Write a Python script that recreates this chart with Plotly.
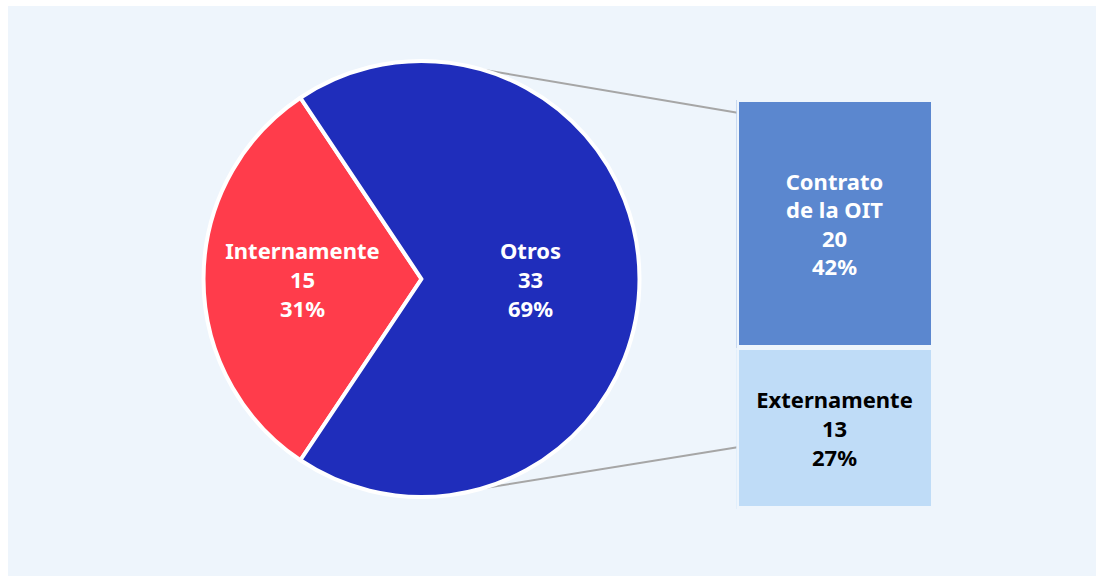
import math
import plotly.graph_objects as go

# Pie: how work gets done overall
pie_labels = ["Internamente", "Otros"]
pie_values = [15, 33]

# Breakdown of the "Otros" slice
bar_labels = ["Contrato<br>de la OIT", "Externamente"]
bar_values = [20, 13]

total = sum(pie_values)

W, H = 1096, 576
PANEL = "#EEF5FC"
FONT = "Noto Sans"
FS = 22

# Pie geometry in pixels
cx, cy, r = 421.5, 279.0, 218.0
# Bar column in pixels (outer edge, before the separating outline)
bx0, bx1, by_top, by_bot = 736.5, 933.5, 100.0, 509.0
SEP = 5


def pct(v):
    return f"{round(100 * v / total)}%"


# Centre the first slice on 9 o'clock
first_share = pie_values[0] / total * 360
rotation = -90 - first_share / 2

fig = go.Figure()

fig.add_trace(go.Pie(
    labels=pie_labels,
    values=pie_values,
    sort=False,
    direction="counterclockwise",
    rotation=rotation,
    marker=dict(colors=["#FF3C4B", "#1F2DBB"], line=dict(color="white", width=4)),
    texttemplate="<b>%{label}<br>%{value}<br>%{percent:.0%}</b>",
    textposition="inside",
    insidetextorientation="horizontal",
    textfont=dict(family=FONT, size=FS, color="white"),
    domain=dict(x=[(cx - r) / W, (cx + r) / W], y=[(H - cy - r) / H, (H - cy + r) / H]),
    showlegend=False,
    hoverinfo="label+value+percent",
))

# Stacked column: bottom segment first
bar_colors = ["#5B87CF", "#BFDCF7"]
text_colors = ["white", "black"]
for lab, val, col, tc in reversed(list(zip(bar_labels, bar_values, bar_colors, text_colors))):
    fig.add_trace(go.Bar(
        x=[0], y=[val],
        marker=dict(color=col, line=dict(color=PANEL, width=SEP)),
        width=1,
        text=[f"<b>{lab}<br>{val}<br>{pct(val)}</b>"],
        textposition="inside",
        insidetextanchor="middle",
        textangle=0,
        textfont=dict(family=FONT, size=FS, color=tc),
        xaxis="x", yaxis="y",
        showlegend=False,
        cliponaxis=False,
    ))


def to_paper(px, py):
    return px / W, (H - py) / H


shapes = [
    dict(type="rect", xref="paper", yref="paper", x0=8 / W, x1=1, y0=0, y1=(H - 6) / H,
         fillcolor=PANEL, line=dict(width=0), layer="below"),
]
# Connector lines from the pie rim to the column
for ang_deg, py_end in [(74, 113.0), (-74, 447.0)]:
    a = math.radians(ang_deg)
    sx, sy = cx + r * math.cos(a), cy - r * math.sin(a)
    x0, y0 = to_paper(sx, sy)
    x1, y1 = to_paper(bx0 + SEP / 2, py_end)
    shapes.append(dict(type="line", xref="paper", yref="paper", x0=x0, y0=y0, x1=x1, y1=y1,
                       line=dict(color="#A6A6A6", width=2), layer="below"))

fig.update_layout(
    width=W, height=H, autosize=False,
    margin=dict(l=0, r=0, t=0, b=0),
    paper_bgcolor="white",
    plot_bgcolor="rgba(0,0,0,0)",
    barmode="stack",
    bargap=0,
    xaxis=dict(domain=[bx0 / W, bx1 / W], range=[-0.5, 0.5], visible=False, fixedrange=True),
    yaxis=dict(domain=[(H - by_bot) / H, (H - by_top) / H], range=[0, sum(bar_values)],
               visible=False, fixedrange=True),
    uniformtext=dict(minsize=FS, mode="show"),
    shapes=shapes,
    font=dict(family=FONT),
)

fig.write_html("out.html")
